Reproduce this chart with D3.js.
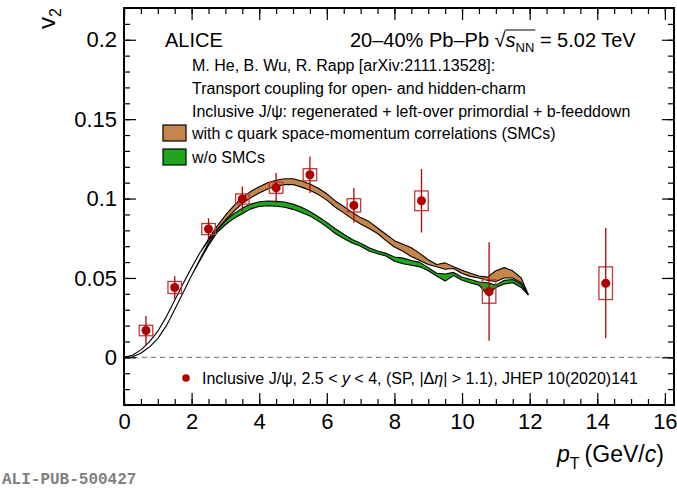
<!DOCTYPE html>
<html>
<head>
<meta charset="utf-8">
<script src="https://cdn.jsdelivr.net/npm/d3@7"></script>
<style>
  body { margin: 0; background: #fff; }
  svg { display: block; }
  text { font-family: "Liberation Sans", Arial, sans-serif; fill: #000; white-space: pre; }
</style>
</head>
<body>
<svg id="chart" width="677" height="489"></svg>
<script>
'use strict';

// ALICE data: inclusive J/psi v2, 20-40% Pb-Pb
const ptData   = [0.65, 1.5, 2.5, 3.5, 4.5, 5.5, 6.8, 8.8, 10.8, 14.25];
const v2Data   = [0.0169, 0.044, 0.0808, 0.0997, 0.1068, 0.115, 0.0957, 0.0986, 0.0415, 0.0467];
const statErr  = [0.0092, 0.0071, 0.0068, 0.0079, 0.0093, 0.0115, 0.011, 0.020, 0.031, 0.0347];
const systErr  = [0.0033, 0.0038, 0.0035, 0.0032, 0.0035, 0.0038, 0.0042, 0.0062, 0.0074, 0.0103];

// Model bands (He, Wu, Rapp)
const bandPt = [0, 0.25, 0.5, 0.75, 1, 1.25, 1.5, 1.75, 2, 2.25, 2.5, 2.75, 3, 3.25, 3.5, 3.75,
  4, 4.25, 4.5, 4.75, 5, 5.25, 5.5, 5.75, 6, 6.25, 6.5, 6.75, 7, 7.25, 7.5, 7.75,
  8, 8.25, 8.5, 8.75, 9, 9.25, 9.5, 9.75, 10, 10.25, 10.5, 10.75, 11, 11.25, 11.5, 11.75, 11.95];
const smcHi = [0, .0013, .0047, .0098, .0165, .0255, .036, .0465, .0565, .066, .0745, .0825, .0895, .0955, .1005, .1045,
  .1075, .1100, .1115, .1125, .1125, .1110, .1092, .1065, .1030, .0985, .0950, .0912, .0880, .0855, .0815, .0775,
  .0735, .0712, .0690, .0655, .0615, .0585, .0595, .0570, .0548, .0530, .0512, .0505, .0545, .0565, .0545, .0500, .0400];
const smcLo = [0, .0013, .0047, .0098, .0165, .0255, .036, .0465, .0565, .066, .0735, .0805, .0865, .0920, .0970, .1005,
  .1035, .1060, .1078, .1088, .1088, .1072, .1052, .1025, .0990, .0945, .0910, .0872, .0840, .0812, .0780, .0735,
  .0695, .0668, .0635, .0610, .0585, .0570, .0555, .0560, .0528, .0510, .0500, .0485, .0478, .0500, .0500, .0470, .0395];
const noSmcHi = [0, .0004, .0026, .0065, .0118, .0198, .0302, .0408, .0515, .0620, .0720, .080, .0860, .0905, .0940, .0965,
  .0980, .0985, .0982, .0978, .0965, .0945, .0918, .0885, .0850, .0810, .0775, .0742, .0718, .0690, .0670, .0655,
  .0632, .0625, .0610, .0598, .0565, .0530, .0525, .0535, .0505, .0490, .0475, .0470, .0455, .0485, .0490, .0460, .0400];
const noSmcLo = [0, .0004, .0026, .0065, .0118, .0198, .0302, .0408, .0515, .0612, .0705, .0785, .0835, .0875, .0905, .0935,
  .0950, .0955, .0952, .0945, .0932, .0912, .0890, .0858, .0822, .0780, .0748, .0720, .0700, .0670, .0652, .0638,
  .0605, .0590, .0580, .0570, .0545, .0512, .0480, .0515, .0485, .0468, .0455, .0395, .0440, .0462, .0470, .0440, .0395];

const xMajor = [0, 2, 4, 6, 8, 10, 12, 14, 16];
const yMajor = [0, 0.05, 0.1, 0.15, 0.2];

const svg = d3.select('#chart');
const plotLeft = 124, plotRight = 674, plotTop = 8, plotBottom = 405;

const x = d3.scaleLinear().domain([0, 16.27]).range([plotLeft, plotRight]);
const y = d3.scaleLinear().domain([-0.03, 0.22]).range([plotBottom, plotTop]);

const dataRed = '#b00000';
const brown = '#c4864a';
const green = '#1fa51f';

// zero line
svg.append('line')
    .attr('x1', plotLeft).attr('x2', plotRight)
    .attr('y1', y(0)).attr('y2', y(0))
    .attr('stroke', '#888').attr('stroke-width', 1.2)
    .attr('stroke-dasharray', '5,4');

// model bands
const bands = [
    { hi: noSmcHi, lo: noSmcLo, fill: green },
    { hi: smcHi, lo: smcLo, fill: brown }
];
bands.forEach(b => {
    const area = d3.area()
        .x((d, i) => x(bandPt[i]))
        .y0((d, i) => y(b.lo[i]))
        .y1((d, i) => y(b.hi[i]));
    svg.append('path')
        .datum(bandPt)
        .attr('d', area)
        .attr('fill', b.fill)
        .attr('stroke', '#000')
        .attr('stroke-width', 1.1)
        .attr('stroke-linejoin', 'round');
});

// data points
const pts = ptData.map((p, i) => ({ pt: p, v: v2Data[i], stat: statErr[i], syst: systErr[i] }));
const gData = svg.append('g');
gData.selectAll('rect.syst').data(pts).join('rect')
    .attr('class', 'syst')
    .attr('x', d => x(d.pt - 0.2))
    .attr('width', d => x(d.pt + 0.2) - x(d.pt - 0.2))
    .attr('y', d => y(d.v + d.syst))
    .attr('height', d => y(d.v - d.syst) - y(d.v + d.syst))
    .attr('fill', 'none')
    .attr('stroke', '#c03a3a')
    .attr('stroke-width', 1.3);
gData.selectAll('line.stat').data(pts).join('line')
    .attr('class', 'stat')
    .attr('x1', d => x(d.pt)).attr('x2', d => x(d.pt))
    .attr('y1', d => y(d.v + d.stat)).attr('y2', d => y(d.v - d.stat))
    .attr('stroke', dataRed).attr('stroke-width', 1.3);
gData.selectAll('circle').data(pts).join('circle')
    .attr('cx', d => x(d.pt)).attr('cy', d => y(d.v))
    .attr('r', 4.5)
    .attr('fill', dataRed);

// axes with inward ticks
function drawAxis(axisFn, scale, major, minor, transform, labels, fmt) {
    const g = svg.append('g').attr('transform', transform);
    g.call(axisFn(scale).tickValues(minor).tickSize(-6).tickFormat(''));
    const gm = svg.append('g').attr('transform', transform);
    gm.call(axisFn(scale).tickValues(major).tickSize(-12)
        .tickPadding(labels ? 8 : 0)
        .tickFormat(labels ? fmt : ''));
    [g, gm].forEach(s => {
        s.select('.domain').remove();
        s.selectAll('.tick line').attr('stroke', '#000').attr('stroke-width', 1.2);
    });
    gm.selectAll('.tick text').style('font-size', '22px').attr('fill', '#000');
    return gm;
}

const xMinor = d3.range(0, 16.26, 0.5);
const yMinor = d3.range(-0.03, 0.2201, 0.01).map(v => +v.toFixed(2));

drawAxis(d3.axisBottom, x, xMajor, xMinor, `translate(0,${plotBottom})`, true, d3.format('d'));
drawAxis(d3.axisTop, x, xMajor, xMinor, `translate(0,${plotTop})`, false);
const yAx = drawAxis(d3.axisLeft, y, yMajor, yMinor, `translate(${plotLeft},0)`, true, d => d === 0 ? '0' : String(d));
yAx.selectAll('.tick text').attr('x', -7);
drawAxis(d3.axisRight, y, yMajor, yMinor, `translate(${plotRight},0)`, false);

// frame
svg.append('rect')
    .attr('x', plotLeft).attr('y', plotTop)
    .attr('width', plotRight - plotLeft).attr('height', plotBottom - plotTop)
    .attr('fill', 'none').attr('stroke', '#000').attr('stroke-width', 2);

// rich text helper: segments laid out one after another
function richText(x0, y0, segs, size) {
    let cx = x0;
    const g = svg.append('g');
    segs.forEach(s => {
        const fs = s.size || size;
        const t = g.append('text')
            .attr('x', cx).attr('y', y0 + (s.dy || 0))
            .style('font-size', fs + 'px')
            .style('font-style', s.italic ? 'italic' : 'normal')
            .text(s.t);
        s.x = cx;
        s.w = t.node().getComputedTextLength();
        cx += s.w + (s.gap || 0);
    });
    return cx;
}

// header
richText(165, 47, [{ t: 'ALICE' }], 20);
const hdr = [
    { t: '20\u201340% Pb\u2013Pb ' },
    { t: '\u221A', gap: 0 },
    { t: 's', italic: true },
    { t: 'NN', size: 13, dy: 5 },
    { t: ' = 5.02 TeV' }
];
richText(350, 47, hdr, 20);
// overline of the square root
svg.append('line')
    .attr('x1', hdr[1].x + hdr[1].w - 1).attr('x2', hdr[3].x + hdr[3].w + 1)
    .attr('y1', 30).attr('y2', 30)
    .attr('stroke', '#000').attr('stroke-width', 1);

richText(192, 71, [{ t: 'M. He, B. Wu, R. Rapp [arXiv:2111.13528]:' }], 16);
richText(192, 94, [{ t: 'Transport coupling for open- and hidden-charm' }], 16);
richText(192, 117, [{ t: 'Inclusive J/\u03C8: regenerated + left-over primordial + b-feeddown' }], 16);

// legend boxes
const legend = [
    { fill: brown, label: 'with c quark space-momentum correlations (SMCs)', yc: 133 },
    { fill: green, label: 'w/o SMCs', yc: 157 }
];
legend.forEach(l => {
    svg.append('rect')
        .attr('x', 163).attr('y', l.yc - 8).attr('width', 23).attr('height', 16)
        .attr('fill', l.fill).attr('stroke', '#000').attr('stroke-width', 1.2);
    richText(192, l.yc + 6, [{ t: l.label }], 16);
});

// data legend
svg.append('circle').attr('cx', 186).attr('cy', 378).attr('r', 3.8).attr('fill', dataRed);
richText(202, 384, [
    { t: 'Inclusive J/\u03C8, 2.5 < ' },
    { t: 'y', italic: true },
    { t: ' < 4, (SP, |\u0394' },
    { t: '\u03B7', italic: true },
    { t: '| > 1.1), JHEP 10(2020)141' }
], 16);

// axis titles
const yTitle = svg.append('text')
    .attr('transform', 'translate(55,29) rotate(-90)')
    .style('font-size', '24px');
yTitle.append('tspan').text('v');
yTitle.append('tspan').attr('dy', 6).style('font-size', '16px').text('2');

richText(557, 462, [
    { t: 'p', italic: true, size: 23 },
    { t: 'T', size: 16, dy: 7, gap: 5 },
    { t: '(GeV/' },
    { t: 'c', italic: true },
    { t: ')' }
], 23);

svg.append('text')
    .attr('x', 2).attr('y', 484)
    .style('font-family', '"Liberation Mono", "DejaVu Sans Mono", monospace')
    .style('font-weight', 'bold')
    .style('font-size', '16px')
    .style('fill', '#808080')
    .text('ALI-PUB-500427');
</script>
</body>
</html>
